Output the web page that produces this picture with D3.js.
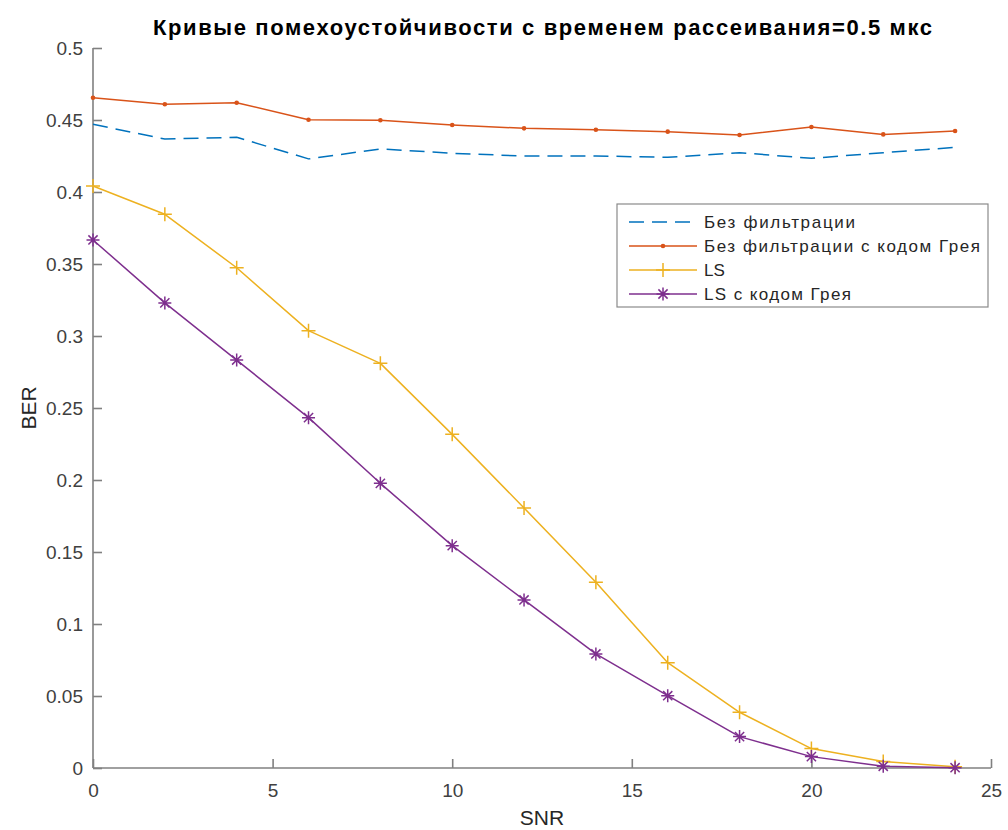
<!DOCTYPE html>
<html><head><meta charset="utf-8">
<script src="https://cdn.jsdelivr.net/npm/d3@7/dist/d3.min.js"></script>
<style>body{margin:0;background:#fff;}svg{display:block;font-family:"Liberation Sans",Arial,sans-serif;}</style>
</head><body>
<svg id="c" width="1008" height="830"></svg>
<script>
const snr = [0,2,4,6,8,10,12,14,16,18,20,22,24];
const noFilter = [0.447,0.4368,0.438,0.423,0.4299,0.4269,0.425,0.425,0.4241,0.4273,0.4234,0.4273,0.431];
const noFilterGray = [0.4655,0.4609,0.462,0.4502,0.4498,0.4465,0.4442,0.4432,0.4419,0.4396,0.4451,0.440,0.4424];
const ls = [0.4042,0.3845,0.3474,0.3037,0.281,0.2317,0.1806,0.129,0.0731,0.0387,0.0135,0.0045,0.0008];
const lsGray = [0.3667,0.323,0.2833,0.2433,0.1977,0.1544,0.1167,0.0792,0.0502,0.0218,0.0079,0.0012,0.0002];
const xTicks = [0,5,10,15,20,25];
const yTicks = [0,0.05,0.1,0.15,0.2,0.25,0.3,0.35,0.4,0.45,0.5];
const seriesNames = ["Без фильтрации","Без фильтрации с кодом Грея","LS","LS с кодом Грея"];
const titleText = "Кривые помехоустойчивости с временем рассеивания=0.5 мкс";

const svg = d3.select("#c");
const L=93, R=991, T=48, B=768;
const x = d3.scaleLinear().domain([0,25]).range([L,R]);
const y = d3.scaleLinear().domain([0,0.5]).range([B,T]);
const axisCol = "#808080", textCol = "#404040";

// axes
const xa = svg.append("g").attr("transform",`translate(0,${B})`)
  .call(d3.axisBottom(x).tickValues(xTicks).tickSize(-9).tickPadding(16).tickFormat(d3.format("d")));
const ya = svg.append("g").attr("transform",`translate(${L},0)`)
  .call(d3.axisLeft(y).tickValues(yTicks).tickSize(-9).tickPadding(10).tickFormat(d=>String(d)));
[xa,ya].forEach(g=>{
  g.select(".domain").attr("stroke",axisCol).attr("stroke-width",1.6);
  g.selectAll(".tick line").attr("stroke",axisCol).attr("stroke-width",1.6);
  g.selectAll(".tick text").attr("fill",textCol).attr("font-size",19).attr("font-family","Liberation Sans, Arial, sans-serif");
});
ya.select(".domain").attr("d",`M0,${B}V${T}`);
xa.select(".domain").attr("d",`M${L},0H${R}`);
ya.selectAll(".tick text").attr("dy","0.35em");

// labels
svg.append("text").attr("x",153).attr("y",35).attr("textLength",779).attr("lengthAdjust","spacing")
  .attr("font-size",22).attr("font-weight","bold").attr("fill","#000").text(titleText);
svg.append("text").attr("x",(L+R)/2).attr("y",825).attr("text-anchor","middle")
  .attr("font-size",21).attr("fill","#262626").text("SNR");
svg.append("text").attr("transform",`translate(36,${(T+B)/2}) rotate(-90)`).attr("text-anchor","middle")
  .attr("font-size",21).attr("fill","#262626").text("BER");

const colors = ["#0072BD","#D95319","#EDB120","#7E2F8E"];
const data = [noFilter,noFilterGray,ls,lsGray];
const line = d3.line().x((d,i)=>x(snr[i])).y(d=>y(d));

function marker(g, type, cx, cy, col){
  if(type===1){
    g.append("circle").attr("cx",cx).attr("cy",cy).attr("r",2.3).attr("fill",col);
  } else if(type===2){
    const s=7;
    g.append("path").attr("d",`M${cx-s},${cy}H${cx+s}M${cx},${cy-s}V${cy+s}`).attr("stroke",col).attr("stroke-width",1.5).attr("fill","none");
  } else if(type===3){
    const s=6.5, d=s*0.707;
    g.append("path").attr("d",`M${cx-s},${cy}H${cx+s}M${cx},${cy-s}V${cy+s}M${cx-d},${cy-d}L${cx+d},${cy+d}M${cx-d},${cy+d}L${cx+d},${cy-d}`)
      .attr("stroke",col).attr("stroke-width",1.5).attr("fill","none");
  }
}

const plot = svg.append("g");
data.forEach((s,k)=>{
  const p = plot.append("path").datum(s).attr("d",line).attr("fill","none")
    .attr("stroke",colors[k]).attr("stroke-width",1.5).attr("stroke-linejoin","round");
  if(k===0) p.attr("stroke-dasharray","15,8");
  if(k>0) s.forEach((v,i)=>marker(plot,k,x(snr[i]),y(v),colors[k]));
});

// legend
const lg = svg.append("g");
lg.append("rect").attr("x",617).attr("y",204).attr("width",371).attr("height",103)
  .attr("fill","#fff").attr("stroke","#8a8a8a").attr("stroke-width",1.2);
const ly = [222,246,270,294];
const legendTextLen = [151,276,null,147];
seriesNames.forEach((n,k)=>{
  const l = lg.append("line").attr("x1",629).attr("x2",697).attr("y1",ly[k]).attr("y2",ly[k])
    .attr("stroke",colors[k]).attr("stroke-width",1.5);
  if(k===0) l.attr("stroke-dasharray","15,8");
  if(k>0) marker(lg,k,663,ly[k],colors[k]);
  const t = lg.append("text").attr("x",704).attr("y",ly[k]).attr("dy","0.35em").attr("font-size",17)
    .attr("fill","#262626").text(n);
  if(legendTextLen[k]) t.attr("textLength",legendTextLen[k]).attr("lengthAdjust","spacing");
});
</script>
</body></html>
